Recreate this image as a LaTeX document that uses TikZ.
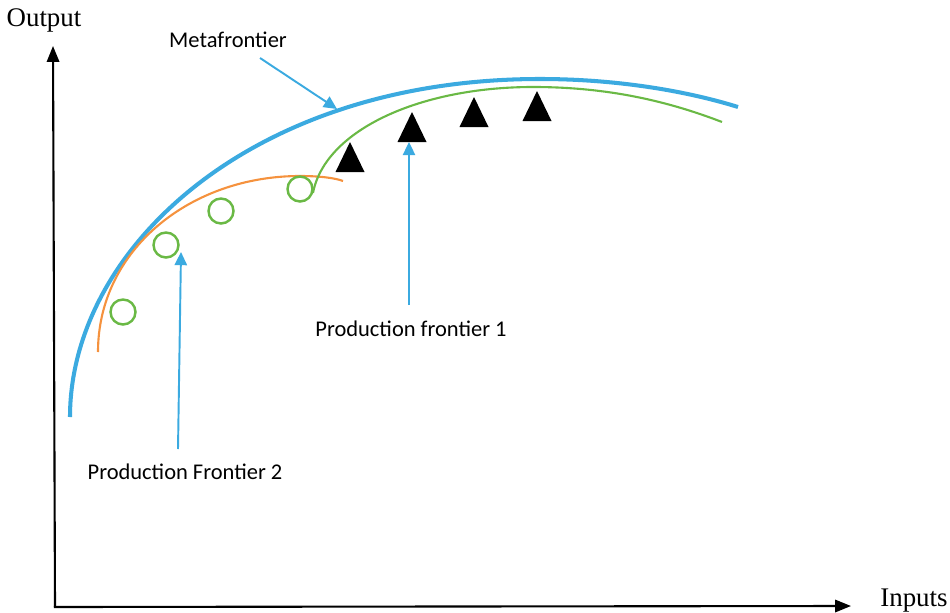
\documentclass[tikz,border=0pt]{standalone}
\usepackage{fontspec}
\setmainfont{Liberation Serif}
\newfontfamily\labelfont{Carlito}
\usetikzlibrary{arrows.meta}
\definecolor{metablue}{HTML}{3BAAE0}
\definecolor{pforange}{HTML}{F5923E}
\definecolor{pfgreen}{HTML}{6AB945}
\tikzset{
  axisline/.style={line width=1.2pt, -{Triangle[length=9pt, width=7pt]}},
  axislabel/.style={font=\fontsize{15.3}{18}\selectfont, inner sep=0pt},
  curvelabel/.style={font=\labelfont\fontsize{12.8}{15}\selectfont, inner sep=0pt},
  pointer/.style={metablue, line width=1.1pt, -{Triangle[length=7.5pt, width=7pt]}},
  metacurve/.style={metablue, line width=2.3pt},
  pfcurve/.style={line width=1.2pt},
  grouptwo/.style={circle, draw=pfgreen, line width=1.4pt, minimum size=0.5cm, inner sep=0pt},
}
\begin{document}
\begin{tikzpicture}[x=0.02cm, y=-0.02cm]
  \useasboundingbox (0,0) rectangle (950,612);

  % axes
  \coordinate (O) at (55,607);
  \coordinate (ytip) at (53,46);
  \coordinate (xtip) at (851,606);
  \draw[axisline] (O) -- (ytip);
  \draw[axisline] ([xshift=-0.6pt]O) -- (xtip);
  \node[axislabel] (outlab) at (44,20) {Output};
  \node[axislabel] (inlab) at (914,601) {Inputs};

  % metafrontier
  \coordinate (mfa) at (70,417);
  \coordinate (mfb) at (540,79);
  \coordinate (mfc) at (738,107);
  \draw[metacurve] (mfa) .. controls (70,250) and (250,79) .. (mfb)
                         .. controls (620,79) and (690,92) .. (mfc);

  % production frontier 2
  \coordinate (pfoa) at (98,352);
  \coordinate (pfob) at (300,176);
  \coordinate (pfoc) at (343,181);
  \draw[pfcurve, pforange] (pfoa) .. controls (98,250) and (190,176) .. (pfob)
                                  .. controls (320,176) and (335,178) .. (pfoc);

  % production frontier 1
  \coordinate (pfga) at (313,193);
  \coordinate (pfgb) at (533,87);
  \coordinate (pfgc) at (722,122);
  \draw[pfcurve, pfgreen] (pfga) .. controls (325,130) and (420,87) .. (pfgb)
                                 .. controls (610,87) and (670,102) .. (pfgc);

  % group 2 observations
  \node[grouptwo] (c1) at (123,312) {};
  \node[grouptwo] (c2) at (166,245) {};
  \node[grouptwo] (c3) at (221,211) {};
  \node[grouptwo] (c4) at (300,189) {};

  % group 1 observations
  \foreach \x/\y in {350/157, 412/127, 474/112, 537/106}
    \fill (\x,\y) ++(-14.5,15) -- ++(14.5,-30) -- ++(14.5,30) -- cycle;

  % labels and pointers
  \node[curvelabel] (mflab) at (228,40) {Metafrontier};
  \node[curvelabel] (pf1lab) at (411,329) {Production frontier 1};
  \node[curvelabel] (pf2lab) at (185,472) {Production Frontier 2};

  \coordinate (mfstart) at (260,58);
  \coordinate (mfend) at (337,109);
  \coordinate (pf1start) at (409,305);
  \coordinate (pf1end) at (409,142);
  \coordinate (pf2start) at (178,449);
  \coordinate (pf2end) at (181,252);

  \draw[pointer] (mfstart) -- (mfend);
  \draw[pointer] (pf1start) -- (pf1end);
  \draw[pointer] (pf2start) -- (pf2end);
\end{tikzpicture}
\end{document}
